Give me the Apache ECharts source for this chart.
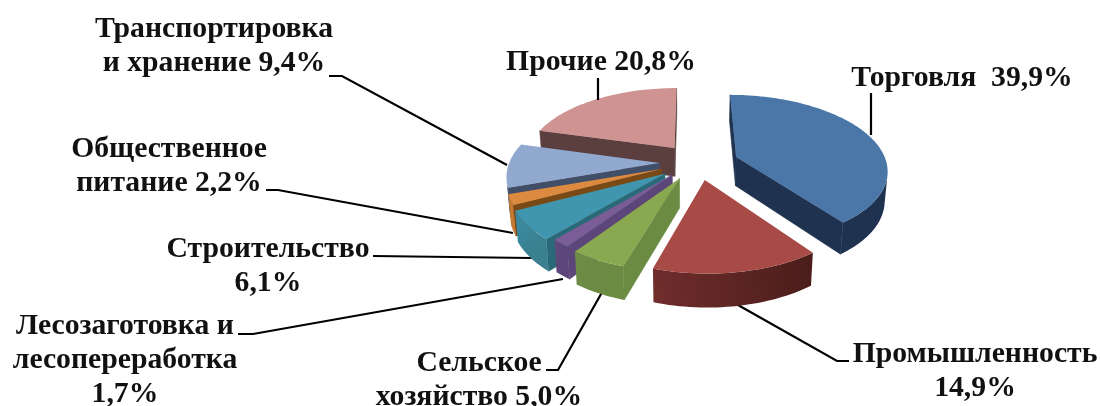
<!DOCTYPE html>
<html>
<head>
<meta charset="utf-8">
<style>html,body{margin:0;padding:0;background:#fff}#chart{width:1100px;height:406px}</style>
<script src="https://cdn.jsdelivr.net/npm/echarts@6/dist/echarts.min.js"></script>
</head>
<body>
<div id="chart"></div>
<script>
// data
const categories = ['Торговля', 'Промышленность', 'Сельское хозяйство', 'Лесозаготовка и лесопереработка', 'Строительство', 'Общественное питание', 'Транспортировка и хранение', 'Прочие'];
const shares = [39.9, 14.9, 5.0, 1.7, 6.1, 2.2, 9.4, 20.8];
const labelTexts = [
  'Торговля  39,9%',
  'Промышленность\n14,9%',
  'Сельское\nхозяйство 5,0%',
  'Лесозаготовка и\nлесопереработка\n1,7%',
  'Строительство\n6,1%',
  'Общественное\nпитание 2,2%',
  'Транспортировка\nи хранение 9,4%',
  'Прочие 20,8%',
];

// look
const topColors = ['#4a76a8', '#a84a46', '#8aa84f', '#7a5c96', '#3f96ae', '#dc8a3f', '#92a9cf', '#cf9492'];
const edgeColors = ['#1f3350', '#4a1d1a', '#6b8a42', '#5c4679', '#2a6a78', '#7a4a16', '#414e68', '#5b3f3f'];
const rimFrom = ['#1f3350', '#4a1d1a', '#6b8a42', '#5c4679', '#3a8090', '#c47a30', '#414e68', '#5b3f3f'];
const rimTo = ['#1f3350', '#6f2d2c', '#6f8c46', '#5f4a80', '#3a8ca5', '#c47a30', '#414e68', '#5b3f3f'];
// how far each slice is pulled out, in pie radii
const explode = [[0.311, -0.11], [0.095, 0.197], [-0.068, 0.176], [-0.115, 0.125], [-0.163, 0.116], [-0.187, 0.053], [-0.203, -0.027], [-0.106, -0.238]];
const labelPos = [[962, 78], [975, 371], [479, 380], [125, 360], [268, 266], [169, 166], [214, 46], [601, 62]];
const leaders = [
  [[871, 93], [871, 135]],
  [[849, 361], [837, 361], [738, 305]],
  [[546, 370], [558, 370], [605, 287]],
  [[238, 334], [253, 334], [563, 279]],
  [[373, 256], [532, 258]],
  [[266, 190], [278, 190], [513, 233]],
  [[329, 76], [342, 76], [507, 165]],
  [[598, 78], [598, 100]],
];

const CX = 690, CY = 165, RX = 151, RY = 74, PERSP = 0.154, DEPTH = 29, BOTTOM_SCALE = 0.985;

const project = (u, v, bottom) => {
  let f = 1 / (1 - PERSP * v);
  const h = bottom ? DEPTH * f : 0;
  if (bottom) f *= BOTTOM_SCALE;
  return [CX + RX * u * f, CY + RY * v * f + h];
};

const area = (pts) => {
  let s = 0;
  pts.forEach((p, i) => {
    const q = pts[(i + 1) % pts.length];
    s += p[0] * q[1] - q[0] * p[1];
  });
  return s;
};

const total = shares.reduce((a, b) => a + b, 0);

const renderSlice = (params, api) => {
  const i = params.dataIndex;
  const before = shares.slice(0, i).reduce((a, b) => a + b, 0);
  const start = (before / total) * Math.PI * 2;
  const sweep = (api.value(0) / total) * Math.PI * 2;
  const [ex, ey] = explode[i];
  const z2 = (shares.length - i) * 10;

  // outline in pie plane coordinates
  const steps = Math.max(3, Math.ceil(sweep / 0.03));
  const rim = [];
  for (let k = 0; k <= steps; k++) {
    const a = start + (sweep * k) / steps;
    rim.push([ex + Math.sin(a), ey - Math.cos(a)]);
  }
  const apex = [ex, ey];
  const children = [];

  const quad = (a, b) => [project(a[0], a[1]), project(b[0], b[1]), project(b[0], b[1], true), project(a[0], a[1], true)];

  const wall = (a, b, color) => {
    const pts = quad(a, b);
    if (area(pts) >= 0) return;
    children.push({
      type: 'polygon',
      z2,
      shape: { points: pts },
      style: { fill: color, stroke: color, lineWidth: 0.6 },
      silent: true,
    });
  };

  wall(apex, rim[0], edgeColors[i]);
  wall(rim[steps], apex, edgeColors[i]);

  // outer wall: only the part turned to the viewer
  const front = [];
  for (let k = 0; k <= steps; k++) {
    const hasNext = k < steps && area(quad(rim[k], rim[k + 1])) < 0;
    const hadPrev = k > 0 && area(quad(rim[k - 1], rim[k])) < 0;
    if (hasNext || hadPrev) front.push(rim[k]);
  }
  if (front.length > 1) {
    const upper = front.map((p) => project(p[0], p[1]));
    const lower = front.map((p) => project(p[0], p[1], true)).reverse();
    const a = upper[0], b = upper[upper.length - 1];
    children.push({
      type: 'polygon',
      z2,
      shape: { points: upper.concat(lower) },
      style: {
        fill: {
          type: 'linear', global: true, x: a[0], y: a[1], x2: b[0], y2: b[1],
          colorStops: [{ offset: 0, color: rimFrom[i] }, { offset: 1, color: rimTo[i] }],
        },
      },
      silent: true,
    });
  }

  children.push({
    type: 'polygon',
    z2: z2 + 1,
    shape: { points: [apex].concat(rim).map((p) => project(p[0], p[1])) },
    style: { fill: topColors[i] },
    silent: true,
  });

  children.push({
    type: 'polyline',
    z2: i === 7 || i === 0 ? 200 : 0,
    shape: { points: leaders[i] },
    style: { fill: 'none', stroke: '#000', lineWidth: 2.2 },
    silent: true,
  });
  children.push({
    type: 'text',
    z2: 300,
    style: {
      text: labelTexts[i],
      x: labelPos[i][0],
      y: labelPos[i][1],
      align: 'center',
      verticalAlign: 'middle',
      fontFamily: '"Liberation Serif"',
      fontWeight: 'bold',
      fontSize: 29.7,
      lineHeight: 34,
      fill: '#111',
    },
    silent: true,
  });
  return { type: 'group', children };
};

const chart = echarts.init(document.getElementById('chart'), null, { renderer: 'canvas' });
chart.setOption({
  animation: false,
  backgroundColor: '#fff',
  tooltip: { show: false },
  series: [{
    type: 'custom',
    coordinateSystem: 'none',
    renderItem: renderSlice,
    data: shares.map((v, i) => ({ name: categories[i], value: [v] })),
    silent: true,
  }],
});
</script>
</body>
</html>
